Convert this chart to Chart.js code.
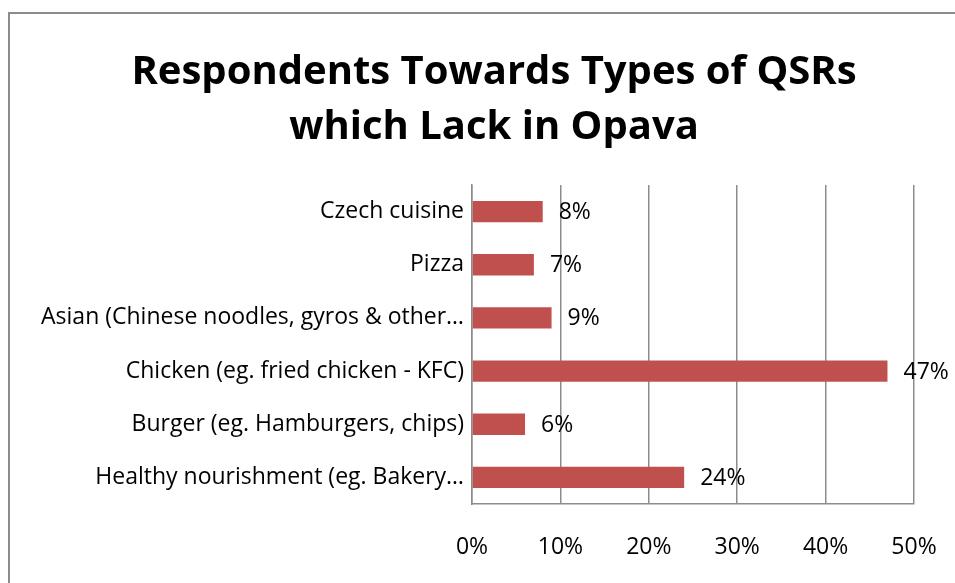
<!DOCTYPE html>
<html>
<head>
<meta charset="utf-8">
<script src="https://cdn.jsdelivr.net/npm/chart.js@4/dist/chart.umd.min.js"></script>
<style>
  body { margin: 0; background: #fff; overflow: hidden; }
  #frame { position: absolute; left: 8px; top: 12px; width: 1000px; height: 700px; border: 2px solid #8c8c8c; box-sizing: border-box; }
  #swapChart { position: absolute; left: 0; top: 0; }
</style>
</head>
<body>
<div id="frame"></div>
<canvas id="swapChart" width="955" height="583"></canvas>
<script>
// chart data
const categories = [
  "Czech cuisine",
  "Pizza",
  "Asian (Chinese noodles, gyros & other\u2026",
  "Chicken (eg. fried chicken - KFC)",
  "Burger (eg. Hamburgers, chips)",
  "Healthy nourishment (eg. Bakery\u2026"
];
const shares = [8, 7, 9, 47, 6, 24];
const tickValues = [0, 10, 20, 30, 40, 50];

const labelFont = "'Open Sans', sans-serif";

// value labels next to bar ends
const valueLabels = {
  id: "valueLabels",
  afterLayout(chart) {
    // let long category labels run past the padded left edge
    chart.scales.y.left = 0;
  },
  afterDatasetsDraw(chart) {
    const c = chart.ctx;
    c.save();
    c.font = "23px " + labelFont;
    c.fillStyle = "#000";
    c.textBaseline = "middle";
    chart.getDatasetMeta(0).data.forEach((bar, i) => {
      c.fillText(shares[i] + "%", bar.x + 16, bar.y + 1);
    });
    c.restore();
  }
};

const ctx = document.getElementById("swapChart").getContext("2d");
new Chart(ctx, {
  type: "bar",
  data: {
    labels: categories,
    datasets: [
      {
        data: shares,
        backgroundColor: "#C0504D",
        barPercentage: 0.4,
        categoryPercentage: 1,
      },
    ],
  },
  options: {
    indexAxis: "y",
    responsive: false,
    animation: false,
    layout: { padding: { left: 74, right: 41, top: 0, bottom: 0 } },
    plugins: {
      legend: { display: false },
      tooltip: { enabled: false },
      title: {
        display: true,
        text: ["Respondents Towards Types of QSRs", "which Lack in Opava"],
        color: "#000",
        font: { family: labelFont, size: 40, weight: "bold", lineHeight: 1.375 },
        padding: { top: 45, bottom: 30 },
      },
    },
    scales: {
      x: {
        min: 0,
        max: 50,
        afterBuildTicks(scale) {
          scale.ticks = tickValues.map((v) => ({ value: v }));
        },
        afterFit(scale) {
          scale.height = 79;
          scale.paddingLeft = 0;
          scale.paddingRight = 0;
        },
        grid: { color: "#8c8c8c", lineWidth: 1.5, drawTicks: false },
        border: { display: true, color: "#8c8c8c", width: 1.5 },
        ticks: {
          padding: 30,
          color: "#000",
          font: { family: labelFont, size: 23 },
          callback: (v) => v + "%",
        },
      },
      y: {
        afterFit(scale) {
          scale.width = 398;
          scale.paddingTop = 0;
          scale.paddingBottom = 0;
        },
        grid: { display: false, drawTicks: false },
        border: { display: true, color: "#8c8c8c", width: 1.5 },
        ticks: {
          padding: 8,
          color: "#000",
          font: { family: labelFont, size: 23 },
        },
      },
    },
  },
  plugins: [valueLabels],
});
</script>
</body>
</html>
